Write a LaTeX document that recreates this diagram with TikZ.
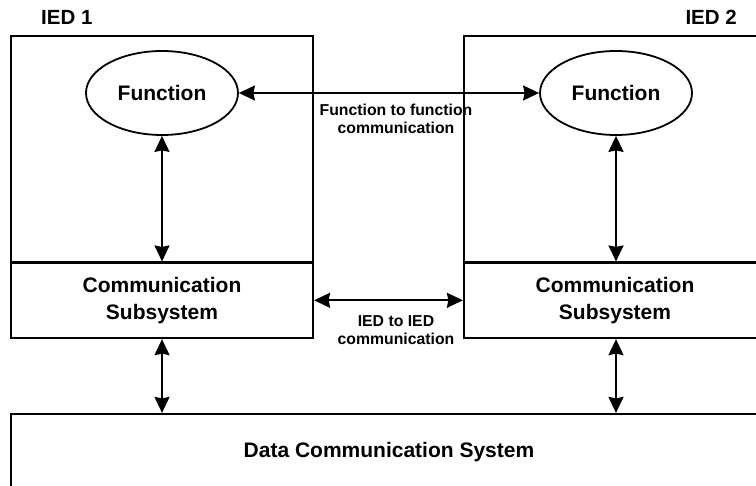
\documentclass[tikz,border=0pt]{standalone}
\usepackage{fontspec}
\setmainfont{Liberation Sans}
\usepackage{tikz}
\usetikzlibrary{positioning,shapes.geometric,arrows.meta}
\tikzset{
  iedbox/.style={draw=black,line width=2.2pt,minimum width=302pt,minimum height=302pt,inner sep=0pt},
  subbox/.style={draw=black,line width=2.2pt,minimum width=302pt,minimum height=75.5pt,
    font=\fontsize{21}{27}\selectfont\bfseries,align=center,inner sep=0pt},
  fnnode/.style={draw=black,ellipse,line width=1.8pt,minimum width=152pt,minimum height=84pt,
    font=\fontsize{21}{25}\selectfont\bfseries,inner sep=0pt},
  dcsbox/.style={draw=black,line width=2.2pt,minimum width=756pt,minimum height=76pt,
    font=\fontsize{21}{25}\selectfont\bfseries,inner sep=0pt},
  iedlabel/.style={font=\fontsize{20.5}{24}\selectfont\bfseries,inner sep=0pt},
  commlabel/.style={font=\fontsize{15.8}{18.5}\selectfont\bfseries,align=center,inner sep=0pt},
  link/.style={line width=2pt,{Stealth[length=16pt,width=15pt,inset=1.5pt]}-{Stealth[length=16pt,width=15pt,inset=1.5pt]}},
}
\begin{document}
\begin{tikzpicture}[x=1pt,y=-1pt]
  \useasboundingbox (0,0) rectangle (756,486);
  \clip (0,0) rectangle (756,486);
  \node[iedbox] (ied1) at (162,187) {};
  \node[iedbox] (ied2) at (615,187) {};
  \node[subbox] (sub1) at (162,300.3) {Communication\\Subsystem};
  \node[subbox] (sub2) at (615,300.3) {Communication\\Subsystem};
  \node[fnnode] (fn1) at (162,93) {Function};
  \node[fnnode] (fn2) at (616,93) {Function};
  \node[dcsbox] (dcs) at (389,452) {Data Communication System};
  \node[iedlabel,anchor=west] (lab1) at (41,17) {IED 1};
  \node[iedlabel,anchor=east] (lab2) at (737,17) {IED 2};
  \node[commlabel] (fnlab) at (396,119) {Function to function\\communication};
  \node[commlabel] (iedlab) at (396,330) {IED to IED\\communication};
  \draw[link] (fn1) -- (fn2);
  \draw[link] (fn1.south) -- (fn1.south |- sub1.north);
  \draw[link] (fn2.south) -- (fn2.south |- sub2.north);
  \draw[link] (sub1) -- (sub2);
  \draw[link] (sub1.south) -- (sub1.south |- dcs.north);
  \draw[link] (fn2.south |- sub2.south) -- (fn2.south |- dcs.north);
\end{tikzpicture}
\end{document}
